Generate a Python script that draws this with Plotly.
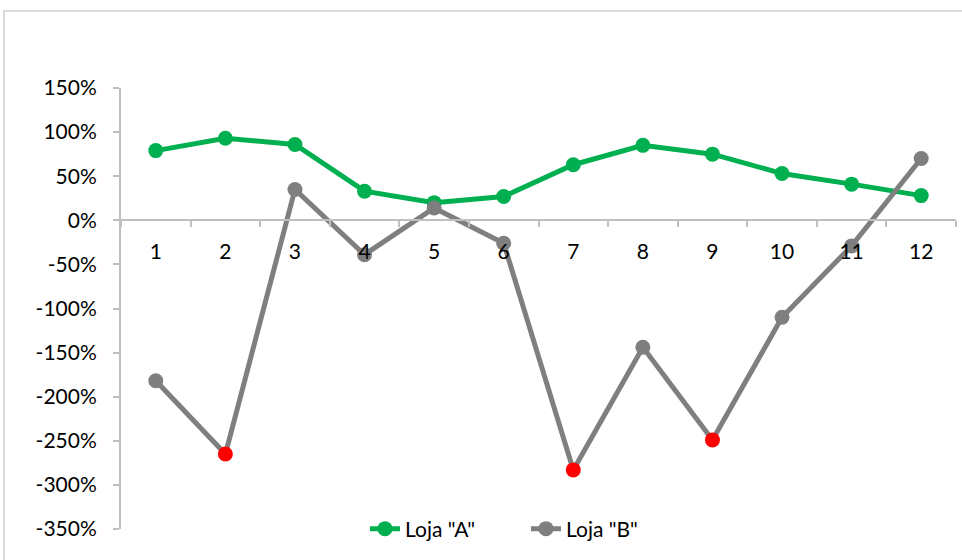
import plotly.graph_objects as go

months = ["1", "2", "3", "4", "5", "6", "7", "8", "9", "10", "11", "12"]
loja_a = [0.79, 0.93, 0.86, 0.33, 0.20, 0.27, 0.63, 0.85, 0.75, 0.53, 0.41, 0.28]
loja_b = [-1.82, -2.65, 0.35, -0.39, 0.14, -0.26, -2.83, -1.44, -2.49, -1.10, -0.29, 0.70]
b_marker_colors = ["#7f7f7f", "#ff0000", "#7f7f7f", "#7f7f7f", "#7f7f7f", "#7f7f7f",
                   "#ff0000", "#7f7f7f", "#ff0000", "#7f7f7f", "#7f7f7f", "#7f7f7f"]
y_ticks = [1.5, 1.0, 0.5, 0.0, -0.5, -1.0, -1.5, -2.0, -2.5, -3.0, -3.5]
y_tick_text = ["150%", "100%", "50%", "0%", "-50%", "-100%", "-150%", "-200%", "-250%", "-300%", "-350%"]

font = dict(family="Lato, 'Open Sans', sans-serif", size=21, color="#000000")

fig = go.Figure()
fig.add_trace(go.Scatter(
    x=months, y=loja_a, name='Loja "A"', mode="lines+markers",
    line=dict(color="#00b050", width=5),
    marker=dict(color="#00b050", size=15),
))
fig.add_trace(go.Scatter(
    x=months, y=loja_b, name='Loja "B"', mode="lines+markers",
    line=dict(color="#7f7f7f", width=5),
    marker=dict(color=b_marker_colors, size=15),
))

fig.update_layout(
    width=962, height=560,
    margin=dict(l=121, r=6, t=88, b=31, autoexpand=False),
    paper_bgcolor="white", plot_bgcolor="white",
    font=font,
    showlegend=True,
    legend=dict(orientation="h", x=0.485, xanchor="center", y=0.0, yanchor="middle",
                font=font, bgcolor="rgba(255,255,255,0)", traceorder="normal",
                entrywidth=116, entrywidthmode="pixels"),
    xaxis=dict(type="category", range=[-0.5, 11.5], anchor="free", position=0.7,
               showline=True, linecolor="#bfbfbf", linewidth=2,
               ticks="outside", tickson="boundaries", ticklen=6, tickcolor="#bfbfbf", tickwidth=2,
               showgrid=False, zeroline=False, ticklabelstandoff=12, automargin=False),
    yaxis=dict(range=[-3.5, 1.5], tickvals=y_ticks, ticktext=y_tick_text,
               showline=True, linecolor="#bfbfbf", linewidth=2,
               ticks="outside", ticklen=6, tickcolor="#bfbfbf", tickwidth=2,
               showgrid=False, zeroline=False, ticklabelstandoff=12, automargin=False),
    shapes=[dict(type="rect", xref="paper", yref="paper",
                 x0=-0.1401, x1=1.02, y0=-0.2, y1=1.1746,
                 line=dict(color="#d9d9d9", width=2), fillcolor="rgba(0,0,0,0)", layer="below")],
)

fig.write_html("out.html", config={"displayModeBar": False},
               post_script="document.body.style.margin='0';document.body.style.overflow='hidden';")
